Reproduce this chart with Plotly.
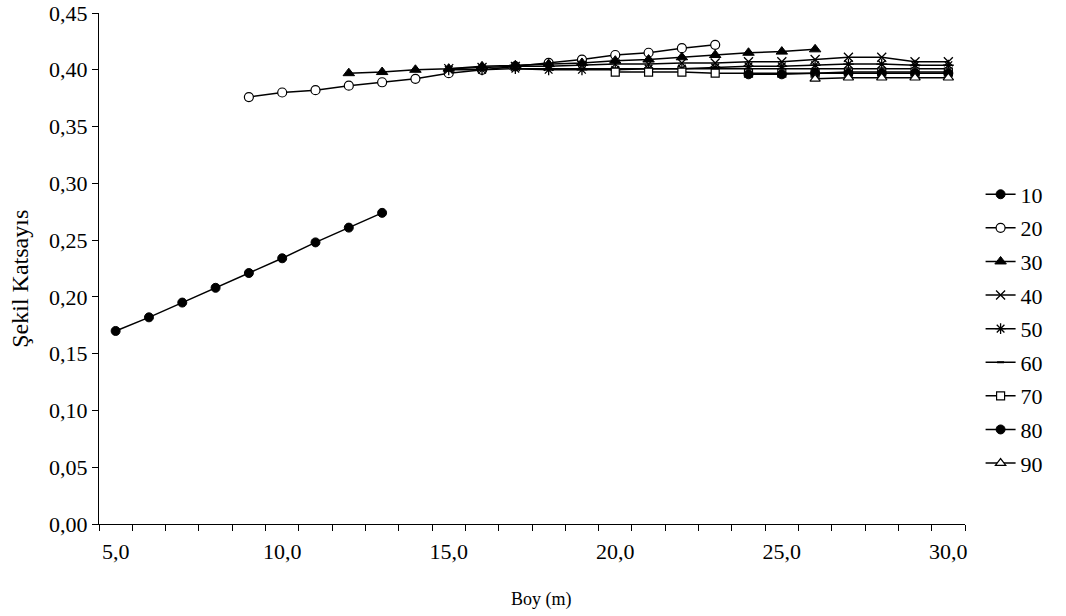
import plotly.graph_objects as go

# Data (x = Boy (m), y = Şekil Katsayısı) per diameter class
x10 = [5, 6, 7, 8, 9, 10, 11, 12, 13]
y10 = [0.170, 0.182, 0.195, 0.208, 0.221, 0.234, 0.248, 0.261, 0.274]

x20 = list(range(9, 24))
y20 = [0.376, 0.380, 0.382, 0.386, 0.389, 0.392, 0.397, 0.400, 0.403, 0.406, 0.409, 0.413, 0.415, 0.419, 0.422]

x30 = list(range(12, 27))
y30 = [0.397, 0.398, 0.400, 0.401, 0.403, 0.404, 0.405, 0.406, 0.408, 0.409, 0.411, 0.413, 0.415, 0.416, 0.418]

x40 = list(range(15, 31))
y40 = [0.401, 0.402, 0.403, 0.403, 0.404, 0.405, 0.405, 0.406, 0.406, 0.407, 0.407, 0.409, 0.411, 0.411, 0.407, 0.407]

x50 = list(range(15, 31))
y50 = [0.400, 0.400, 0.401, 0.400, 0.400, 0.400, 0.401, 0.401, 0.402, 0.403, 0.403, 0.404, 0.405, 0.405, 0.404, 0.404]

x60 = list(range(17, 31))
y60 = [0.401, 0.401, 0.401, 0.401, 0.401, 0.401, 0.401, 0.401, 0.401, 0.401, 0.401, 0.401, 0.401, 0.401]

x70 = list(range(20, 31))
y70 = [0.398, 0.398, 0.398, 0.397, 0.397, 0.397, 0.397, 0.398, 0.398, 0.398, 0.398]

x80 = list(range(24, 31))
y80 = [0.396, 0.396, 0.397, 0.397, 0.397, 0.397, 0.397]

x90 = list(range(26, 31))
y90 = [0.392, 0.393, 0.393, 0.393, 0.393]

names = ["10", "20", "30", "40", "50", "60", "70", "80", "90"]
xs = [x10, x20, x30, x40, x50, x60, x70, x80, x90]
ys = [y10, y20, y30, y40, y50, y60, y70, y80, y90]

x_title = "Boy (m)"
y_title = "Şekil Katsayıs"

markers = [
    dict(symbol="circle", size=9, color="black", line=dict(color="black", width=1)),
    dict(symbol="circle", size=9, color="white", line=dict(color="black", width=1.2)),
    dict(symbol="triangle-up", size=10, color="black", line=dict(color="black", width=1)),
    dict(symbol="x-thin", size=9, color="black", line=dict(color="black", width=1.3)),
    dict(symbol="asterisk", size=9, color="black", line=dict(color="black", width=1.3)),
    dict(symbol="line-ew", size=5, color="black", line=dict(color="black", width=2)),
    dict(symbol="square", size=8, color="white", line=dict(color="black", width=1.2)),
    dict(symbol="circle", size=9, color="black", line=dict(color="black", width=1)),
    dict(symbol="triangle-up", size=9, color="white", line=dict(color="black", width=1.2)),
]

FONT = "Liberation Serif, Times New Roman, serif"

fig = go.Figure()
for i, (nm, xv, yv) in enumerate(zip(names, xs, ys)):
    fig.add_trace(go.Scatter(
        x=xv, y=yv, name=nm, mode="lines+markers",
        line=dict(color="black", width=1.5),
        marker=markers[i],
        legendgroup=nm,
    ))

fig.update_layout(
    width=1066, height=616,
    margin=dict(l=99, r=101, t=13, b=92),
    paper_bgcolor="white", plot_bgcolor="white",
    font=dict(family=FONT, color="black", size=22),
    separators=",.",
    showlegend=True,
    legend=dict(
        x=1.018, xanchor="left", y=0.686, yanchor="top",
        font=dict(family=FONT, size=22, color="black"),
        tracegroupgap=2, itemwidth=30,
        bgcolor="rgba(0,0,0,0)",
    ),
    xaxis=dict(
        range=[4.5, 30.5], tickmode="array", tickvals=[5, 10, 15, 20, 25, 30],
        tickformat=".1f", ticks="", showline=True, linecolor="black", linewidth=1,
        showgrid=False, zeroline=False, automargin=False,
        minor=dict(tick0=4.5, dtick=1, ticks="outside", ticklen=6, tickcolor="black", showgrid=False),
        tickfont=dict(size=22), ticklabelstandoff=8,
    ),
    yaxis=dict(
        range=[0, 0.45], tickmode="linear", tick0=0, dtick=0.05, tickformat=".2f",
        ticks="outside", ticklen=6, tickcolor="black",
        showline=True, linecolor="black", linewidth=1,
        showgrid=False, zeroline=False, automargin=False,
        tickfont=dict(size=22),
    ),
    annotations=[
        dict(text=x_title, xref="paper", yref="paper", x=0.5115, y=0,
             xanchor="center", yanchor="middle", yshift=-75, showarrow=False,
             font=dict(family=FONT, size=18, color="black")),
        dict(text=y_title, xref="paper", yref="paper", x=-0.0912, y=0.48,
             xanchor="center", yanchor="middle", textangle=-90, showarrow=False,
             font=dict(family=FONT, size=24, color="black")),
    ],
)

fig.write_html("out.html", config={"displayModeBar": False},
               post_script="document.body.style.margin='0';")
